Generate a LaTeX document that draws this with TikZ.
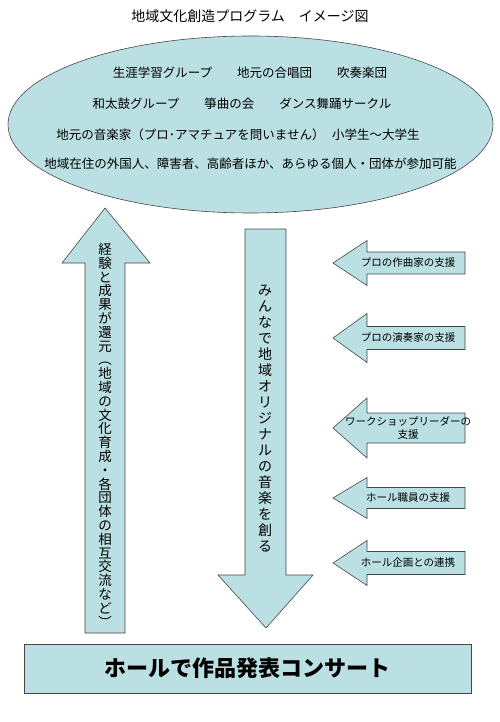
\documentclass[tikz,border=0pt]{standalone}
\usepackage{fontspec}
\setmainfont{Noto Sans CJK JP}
\usepackage{tikz}
\usetikzlibrary{shapes.geometric, positioning}

\definecolor{paleblue}{RGB}{187,224,227}
\definecolor{edgegray}{RGB}{70,70,70}

% vertical text: one character per line
\makeatletter
\newcommand\tate[2]{\vbox{\baselineskip=#1\lineskiplimit=-\maxdimen\lineskip=0pt
  \@tfor\tatech:=#2\do{\hbox to 1em{\hss\tatech\hss}}}}
\makeatother

\tikzset{
  blueshape/.style={fill=paleblue, draw=edgegray, line width=0.6pt},
  grouptext/.style={font=\fontsize{12.5}{14}\selectfont, inner sep=0},
  supporttext/.style={font=\fontsize{10.5}{13}\selectfont, inner sep=0, align=center}
}

% left pointing support arrow: name, y, shaft half height, head half height, text
\newcommand\supportarrow[5]{%
  \draw[blueshape] (333,#2) -- (367,#2-#4) -- (367,#2-#3) -- (465,#2-#3)
    -- (465,#2+#3) -- (367,#2+#3) -- (367,#2+#4) -- cycle;
  \node[supporttext] (#1) at (408,#2) {#5};}

\begin{document}
\begin{tikzpicture}[x=1pt, y=-1pt]
\useasboundingbox (0,0) rectangle (500,722);

\node[font=\fontsize{14}{16}\selectfont, inner sep=0] (title) at (250,16) {地域文化創造プログラム　イメージ図};

% participants
\node[blueshape, ellipse, minimum width=485, minimum height=177, inner sep=0] (groups) at (250.5,124.5) {};
\node[grouptext] (line1) at (250,73) {生涯学習グループ　　地元の合唱団　　吹奏楽団};
\node[grouptext] (line2) at (242,104) {和太鼓グループ　　箏曲の会　　ダンス舞踊サークル};
\node[grouptext] (line3) at (238,135) {地元の音楽家（プロ･アマチュアを問いません）\hspace{0.6em}小学生～大学生};
\node[grouptext] (line4) at (250.5,164) {地域在住の外国人、障害者、高齢者ほか、あらゆる個人・団体が参加可能};

% feedback arrow
\draw[blueshape] (105,208) -- (150,263) -- (125,263) -- (125,633) -- (85,633) -- (85,263) -- (62,263) -- cycle;
\node[inner sep=0, anchor=north, font=\fontsize{13.5}{13.5}\selectfont] (backtext) at (105,243)
  {\tate{13.8pt}{経験と成果が還元︵地域の文化育成・各団体の相互交流など︶}};

% creation arrow
\draw[blueshape] (245,229) -- (286,229) -- (286,575) -- (313,575) -- (266,628) -- (218,575) -- (245,575) -- cycle;
\node[inner sep=0, anchor=north, font=\fontsize{14}{14}\selectfont] (createtext) at (265,285)
  {\tate{16pt}{みんなで地域オリジナルの音楽を創る}};

% support
\supportarrow{composer}{263}{11}{22.5}{プロの作曲家の支援}
\supportarrow{player}{338}{11.5}{24.5}{プロの演奏家の支援}
\supportarrow{leader}{428}{15}{30}{ワークショップリーダーの\\支援}
\supportarrow{staff}{498}{10.5}{20.5}{ホール職員の支援}
\supportarrow{planning}{563}{11.5}{22.5}{ホール企画との連携}

% concert
\node[blueshape, minimum width=447, minimum height=49, font=\bfseries\fontsize{22}{24}\selectfont] (concert) at (247.5,668.5) {ホールで作品発表コンサート};

\end{tikzpicture}
\end{document}
